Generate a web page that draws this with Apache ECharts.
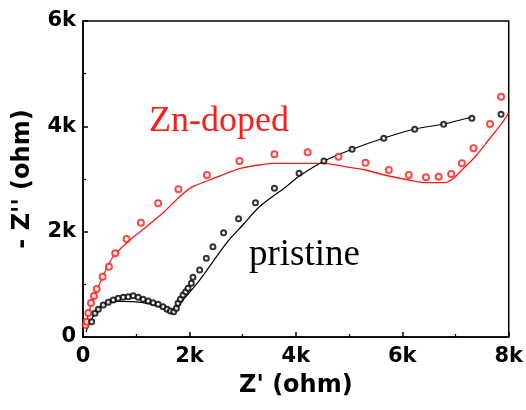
<!DOCTYPE html>
<html>
<head>
<meta charset="utf-8">
<style>
  html, body { margin: 0; padding: 0; background: #fff; }
  #chart { width: 526px; height: 410px; }
</style>
<script src="https://cdn.jsdelivr.net/npm/echarts@6/dist/echarts.min.js"></script>
</head>
<body>
<div id="chart"></div>
<script>
// Nyquist plot: measured impedance (open circles) and equivalent-circuit fits (lines), in ohm
const zndopedMeasured = [
  [50, 230], [70, 290], [100, 456], [150, 646], [206, 779], [257, 911], [369, 1145],
  [487, 1335], [605, 1589], [819, 1861], [1087, 2170], [1411, 2538], [1793, 2804],
  [2329, 3076], [2941, 3342], [3597, 3469], [4221, 3507], [4802, 3423], [5308, 3309],
  [5746, 3171], [6121, 3076], [6445, 3032], [6683, 3044], [6919, 3095], [7119, 3298],
  [7338, 3583], [7649, 4044], [7856, 4562]
];
const zndopedFit = [
  [28, 209], [69, 323], [150, 600], [318, 1025], [562, 1519], [881, 1842], [1193, 2094],
  [1499, 2354], [1817, 2664], [2061, 2854], [2379, 2981], [2692, 3108], [2998, 3209],
  [3316, 3266], [3597, 3298], [3991, 3298], [4528, 3298], [4927, 3233], [5302, 3171],
  [5746, 3057], [6121, 2981], [6426, 2930], [6801, 2930], [6964, 3013], [7119, 3171],
  [7369, 3423], [7620, 3740], [7869, 4057], [7994, 4247]
];
const pristineMeasured = [
  [163, 291], [225, 450], [287, 526], [381, 608], [475, 659], [568, 703], [662, 735],
  [756, 754], [849, 766], [943, 785], [1037, 754], [1131, 716], [1224, 684], [1318, 652],
  [1412, 620], [1505, 576], [1580, 526], [1643, 494], [1705, 481], [1755, 545],
  [1786, 640], [1830, 716], [1880, 797], [1930, 861], [1973, 925], [2036, 1020],
  [2067, 1133], [2192, 1272], [2318, 1494], [2441, 1715], [2642, 1980], [2923, 2246],
  [3241, 2550], [3597, 2823], [4060, 3108], [4528, 3342], [5058, 3564], [5652, 3773],
  [6233, 3943], [6777, 4038], [7307, 4152], [7856, 4228]
];
const pristineFit = [
  [56, 95], [131, 285], [318, 570], [506, 655], [693, 674], [937, 670], [1255, 627],
  [1499, 551], [1692, 450], [1724, 513], [2192, 1082], [2692, 1779], [3003, 2127],
  [3316, 2474], [3816, 2854], [4066, 3057], [4534, 3342], [5058, 3564], [5658, 3778],
  [6239, 3949], [6782, 4044], [7307, 4177]
];
const xTicks = [0, 2000, 4000, 6000, 8000];
const yTicks = [0, 2000, 4000, 6000];
const seriesLabels = ['Zn-doped', 'pristine'];

const RED = '#ff1a1a';
const BLACK = '#000';
const SANS = '"DejaVu Sans", Arial, sans-serif';

function kLabel(v) { return v === 0 ? '0' : (v / 1000) + 'k'; }

const tickFont = { color: '#000', fontFamily: SANS, fontWeight: 'bold', fontSize: 21 };
const nameFont = { color: '#000', fontFamily: SANS, fontWeight: 'bold', fontSize: 24 };

const chart = echarts.init(document.getElementById('chart'), null, { renderer: 'canvas' });
chart.setOption({
  animation: false,
  backgroundColor: '#fff',
  grid: { left: 83, right: 16, top: 21, bottom: 73, show: true, borderColor: '#000', borderWidth: 1.5 },
  xAxis: {
    type: 'value', min: xTicks[0], max: xTicks[xTicks.length - 1], interval: 2000,
    name: "Z' (ohm)", nameLocation: 'middle', nameGap: 37, nameTextStyle: nameFont,
    axisLine: { lineStyle: { color: '#000', width: 1.5 } },
    axisTick: { inside: true, length: 5, lineStyle: { color: '#000', width: 1.5 } },
    minorTick: { show: true, splitNumber: 2, length: 3, lineStyle: { color: '#000', width: 1.2 } },
    splitLine: { show: false },
    axisLabel: Object.assign({ margin: 9, formatter: kLabel }, tickFont)
  },
  yAxis: {
    type: 'value', min: yTicks[0], max: yTicks[yTicks.length - 1], interval: 2000,
    name: "- Z'' (ohm)", nameLocation: 'middle', nameGap: 48, nameTextStyle: nameFont,
    axisLine: { lineStyle: { color: '#000', width: 1.5 } },
    axisTick: { inside: true, length: 5, lineStyle: { color: '#000', width: 1.5 } },
    minorTick: { show: true, splitNumber: 2, length: 3, lineStyle: { color: '#000', width: 1.2 } },
    splitLine: { show: false },
    axisLabel: Object.assign({ margin: 7, formatter: kLabel }, tickFont)
  },
  series: [
    {
      name: seriesLabels[0] + ' fit', type: 'line', data: zndopedFit, smooth: 0.3,
      showSymbol: false, lineStyle: { color: RED, width: 1.3 }, z: 2
    },
    {
      name: seriesLabels[1] + ' fit', type: 'line', data: pristineFit, smooth: 0.3,
      showSymbol: false, lineStyle: { color: BLACK, width: 1.2 }, z: 2
    },
    {
      name: seriesLabels[0], type: 'scatter', data: zndopedMeasured, symbol: 'emptyCircle',
      symbolSize: 6, itemStyle: { color: RED, borderWidth: 1 }, z: 3
    },
    {
      name: seriesLabels[1], type: 'scatter', data: pristineMeasured, symbol: 'emptyCircle',
      symbolSize: 5, itemStyle: { color: BLACK, borderWidth: 1 }, z: 3
    }
  ],
  graphic: [
    {
      type: 'text', left: 149, top: 104,
      style: { text: seriesLabels[0], fill: RED, font: '36px "Liberation Serif", "Times New Roman", serif' }
    },
    {
      type: 'text', left: 249, top: 237,
      style: { text: seriesLabels[1], fill: BLACK, font: '37px "Liberation Serif", "Times New Roman", serif' }
    }
  ]
});
</script>
</body>
</html>
